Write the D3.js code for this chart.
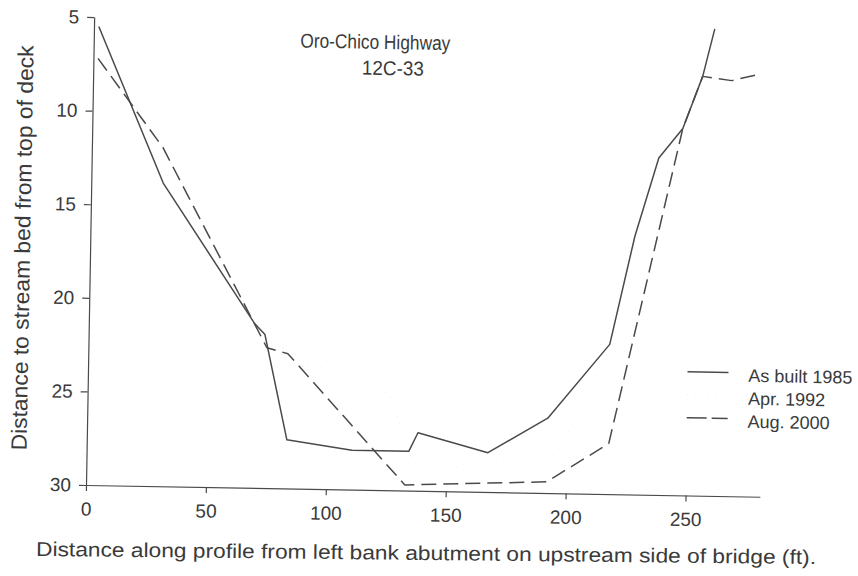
<!DOCTYPE html>
<html>
<head>
<meta charset="utf-8">
<script src="https://cdn.jsdelivr.net/npm/d3@7"></script>
<style>
    html, body { margin: 0; padding: 0; background: #fff; }
    svg { display: block; font-family: 'Liberation Sans', Arial, sans-serif; }
</style>
</head>
<body>
<div id="chart"></div>
<script>
// stream bed profiles, distance along profile (ft) vs depth below deck (ft)
const asBuilt1985X = [2, 30, 69, 73.5, 83.4, 110.6, 134.3, 138, 167.3, 192, 217.3, 227, 236.4, 246.2, 254.1, 258.8]
const asBuilt1985Y = [5.5, 13.8, 21.2, 21.8, 27.4, 27.9, 27.9, 26.9, 27.9, 26, 22, 16.2, 12, 10.4, 7.6, 5.05]

const apr1992X = [3, 30, 74, 108, 125, 137, 154, 164, 192, 209, 222, 240, 255]
const apr1992Y = [6, 13, 22, 24.2, 24.8, 28.5, 28.7, 28.1, 28.5, 25, 18.7, 11, 8]

const aug2000X = [1.9, 29.6, 74.4, 83.2, 132.9, 192, 217.6, 246.2, 254.1, 266.2, 278.7]
const aug2000Y = [7.2, 11.9, 22.5, 22.8, 29.7, 29.4, 27.3, 10.4, 7.6, 7.8, 7.4]

const xTicks = [0, 50, 100, 150, 200, 250]
const yTicks = [5, 10, 15, 20, 25, 30]
const legendLabels = ['As built 1985', 'Apr. 1992', 'Aug. 2000']

function drawChart() {
    const config = {
        width: 858,
        height: 576,
        origin: { x: 86, y: 485 },
        plot: { width: 674, height: 468 },
        tilt: 1,
        ink: '#3a3a3a',
        line: '#4a4a4a',
        faint: '#f1f1f1',
    }

    const svg = d3
        .select('#chart')
        .append('svg')
        .attr('width', config.width)
        .attr('height', config.height)
        .attr('viewBox', `0 0 ${config.width} ${config.height}`)

    // the scanned figure sits slightly rotated, so the plot is tilted about its origin
    const root = svg
        .append('g')
        .attr('transform', `translate(${config.origin.x}, ${config.origin.y}) rotate(${config.tilt})`)

    const scaleX = d3
        .scaleLinear()
        .domain([0, 281])
        .range([0, config.plot.width])

    const scaleY = d3
        .scaleLinear()
        .domain([5, 30])
        .range([-config.plot.height, 0])

    root.append('g')
        .call(d3.axisBottom(scaleX).tickValues(xTicks).tickSize(6).tickSizeOuter(0).tickPadding(11))

    root.append('g')
        .call(d3.axisLeft(scaleY).tickValues(yTicks).tickSize(7).tickSizeOuter(0).tickPadding(8))

    root.selectAll('.domain, .tick line')
        .attr('stroke', config.line)
        .attr('stroke-width', 1.2)
    root.selectAll('.tick text')
        .attr('fill', config.ink)
        .attr('font-size', '19px')
        .attr('font-family', "'Liberation Sans', Arial, sans-serif")

    const toPoints = (xs, ys) => xs.map((x, i) => [x, ys[i]])
    const line = d3.line()
        .x(d => scaleX(d[0]))
        .y(d => scaleY(d[1]))

    // Apr. 1992 is barely visible in the scan, so it stays very faint
    const series = [
        { points: toPoints(apr1992X, apr1992Y), color: config.faint, dash: '1,6', width: 1 },
        { points: toPoints(aug2000X, aug2000Y), color: config.line, dash: '15,7', width: 1.5 },
        { points: toPoints(asBuilt1985X, asBuilt1985Y), color: config.line, dash: null, width: 1.5 },
    ]

    root.selectAll('.profile')
        .data(series)
        .enter()
        .append('path')
        .attr('class', 'profile')
        .attr('fill', 'none')
        .attr('stroke', d => d.color)
        .attr('stroke-width', d => d.width)
        .attr('stroke-dasharray', d => d.dash)
        .attr('stroke-linejoin', 'round')
        .attr('d', d => line(d.points))

    // title
    const title = svg
        .append('g')
        .attr('transform', `rotate(${config.tilt}, 385, 60)`)
        .attr('fill', config.ink)
        .attr('font-size', '20px')
        .attr('text-anchor', 'middle')
    title.append('text')
        .attr('x', 375)
        .attr('y', 49)
        .attr('textLength', 150)
        .attr('lengthAdjust', 'spacingAndGlyphs')
        .text('Oro-Chico Highway')
    title.append('text')
        .attr('x', 393)
        .attr('y', 75)
        .attr('textLength', 62)
        .attr('lengthAdjust', 'spacingAndGlyphs')
        .text('12C-33')

    // legend
    const legendStyles = [
        { color: config.line, dash: null },
        { color: config.faint, dash: '1,6' },
        { color: config.line, dash: '20,5' },
    ]
    const legend = svg
        .append('g')
        .attr('transform', `rotate(${config.tilt}, 760, 400)`)
    const rows = legend.selectAll('.legend-row')
        .data(legendLabels)
        .enter()
        .append('g')
        .attr('class', 'legend-row')
        .attr('transform', (d, i) => `translate(0, ${382 + i * 23})`)
    rows.append('line')
        .attr('x1', 687)
        .attr('x2', 728)
        .attr('y1', -9)
        .attr('y2', -9)
        .attr('stroke', (d, i) => legendStyles[i].color)
        .attr('stroke-width', 1.5)
        .attr('stroke-dasharray', (d, i) => legendStyles[i].dash)
    rows.append('text')
        .attr('x', 748)
        .attr('y', 0)
        .attr('fill', config.ink)
        .attr('font-size', '18px')
        .text(d => d)

    // axis titles
    svg.append('text')
        .attr('transform', `translate(30, 248) rotate(${-90 + config.tilt})`)
        .attr('text-anchor', 'middle')
        .attr('fill', config.ink)
        .attr('font-size', '22px')
        .attr('textLength', 405)
        .attr('lengthAdjust', 'spacingAndGlyphs')
        .text('Distance to stream bed from top of deck')

    svg.append('text')
        .attr('transform', `translate(426, 560) rotate(0.6)`)
        .attr('text-anchor', 'middle')
        .attr('fill', config.ink)
        .attr('font-size', '20px')
        .attr('textLength', 780)
        .attr('lengthAdjust', 'spacingAndGlyphs')
        .text('Distance along profile from left bank abutment on upstream side of bridge (ft).')
}

drawChart()
</script>
</body>
</html>
